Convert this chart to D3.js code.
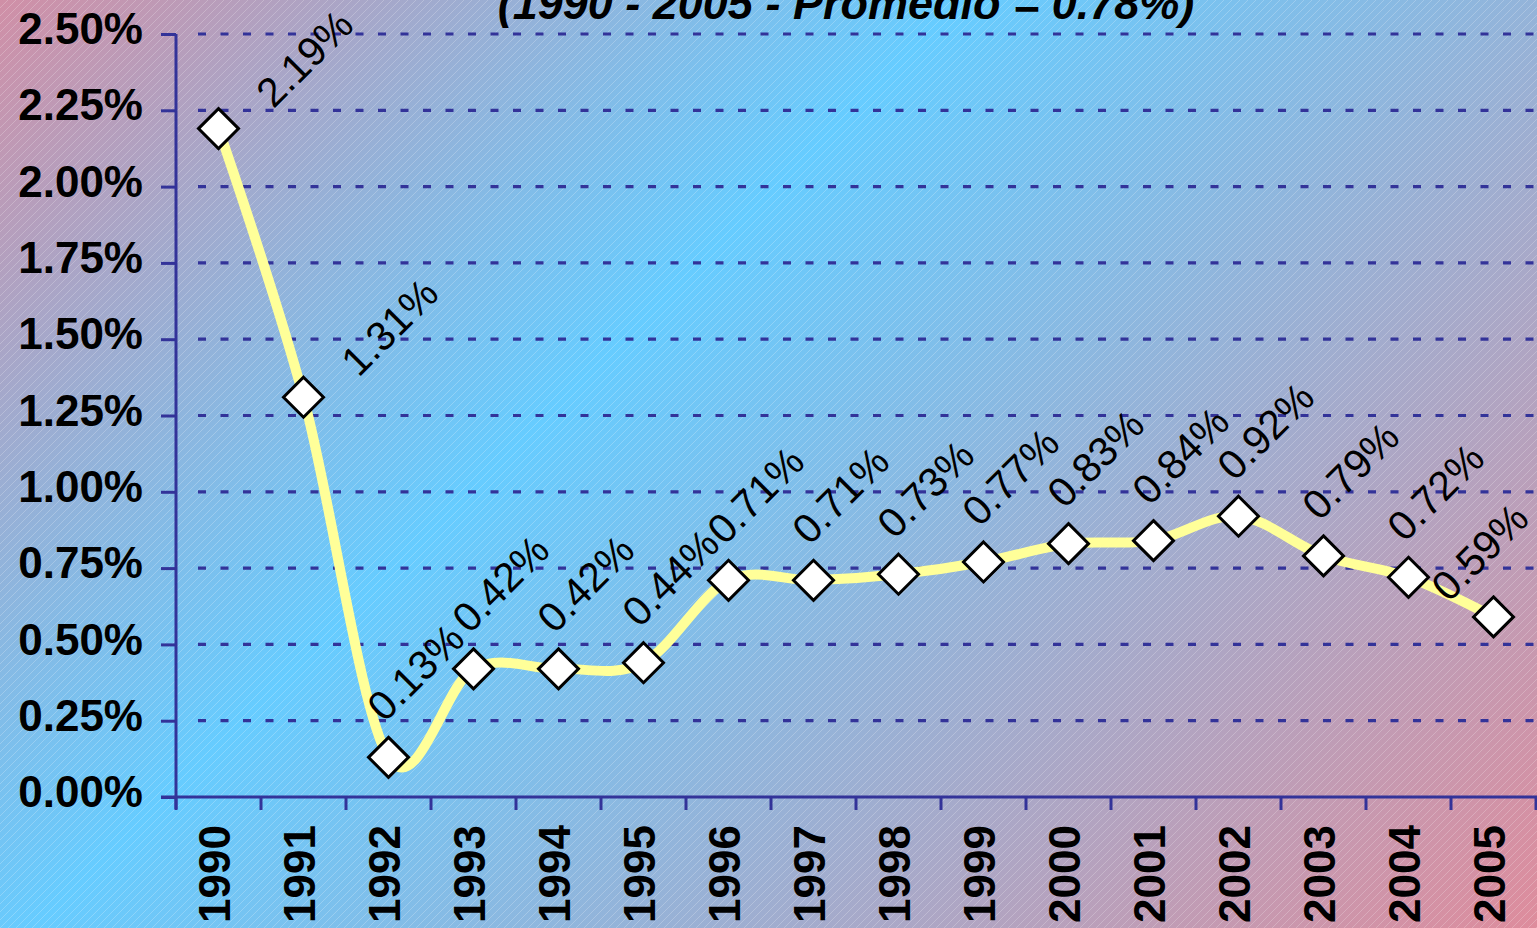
<!DOCTYPE html>
<html>
<head>
<meta charset="utf-8">
<script src="https://cdn.jsdelivr.net/npm/d3@7/dist/d3.min.js"></script>
<style>
	html, body { margin: 0; padding: 0; overflow: hidden; }
	svg { display: block; }
	text { font-family: "Liberation Sans", Arial, sans-serif; }
</style>
</head>
<body>
<svg id="chart" width="1537" height="928"></svg>
<script>
/* Chart data */

var years = ["1990", "1991", "1992", "1993", "1994", "1995", "1996", "1997",
	"1998", "1999", "2000", "2001", "2002", "2003", "2004", "2005"];
var rates = [2.19, 1.31, 0.13, 0.42, 0.42, 0.44, 0.71, 0.71,
	0.73, 0.77, 0.83, 0.84, 0.92, 0.79, 0.72, 0.59];
var yTicks = [0, 0.25, 0.5, 0.75, 1.0, 1.25, 1.5, 1.75, 2.0, 2.25, 2.5];
var titleText = "(1990 - 2005 - Promedio = 0.78%)";

/* Layout */

var width = 1537, height = 928;
var axisColor = "#333399";

var svg = d3.select("#chart");

var x = d3.scaleBand().domain(years).range([176, 1536]);
var y = d3.scaleLinear().domain([0, 2.5]).range([797, 34]);

function pct(v) { return v.toFixed(2) + "%"; }
function cx(i) { return x(years[i]) + x.bandwidth() / 2; }

/* Background: diagonal pink - blue - pink gradient with thin white stripes */

var defs = svg.append("defs");

var grad = defs.append("linearGradient")
	.attr("id", "bgGrad")
	.attr("gradientUnits", "userSpaceOnUse")
	.attr("x1", 0).attr("y1", 0)
	.attr("x2", (width + height) / 2).attr("y2", (width + height) / 2);
grad.append("stop").attr("offset", 0).attr("stop-color", "#d08fa6");
grad.append("stop").attr("offset", 0.39).attr("stop-color", "#66ccff");
grad.append("stop").attr("offset", 1).attr("stop-color", "#de8c9c");

var stripes = defs.append("pattern")
	.attr("id", "stripes")
	.attr("patternUnits", "userSpaceOnUse")
	.attr("width", 8).attr("height", 8);
stripes.append("path")
	.attr("d", "M-2,2 L2,-2 M0,8 L8,0 M6,10 L10,6")
	.attr("stroke", "#ffffff")
	.attr("stroke-opacity", 0.28)
	.attr("stroke-width", 0.8);

svg.append("rect").attr("width", width).attr("height", height)
	.attr("fill", "url(#bgGrad)");
svg.append("rect").attr("width", width).attr("height", height)
	.attr("fill", "url(#stripes)");

/* Title (top half is cut off in the original) */

svg.append("text")
	.attr("x", 846).attr("y", 19)
	.attr("text-anchor", "middle")
	.attr("font-size", 45)
	.attr("font-weight", "bold")
	.attr("font-style", "italic")
	.attr("fill", "#000")
	.text(titleText);

/* Gridlines */

// The dashes start a little right of the axis, like in the original.
svg.append("g").selectAll("line")
	.data(yTicks.filter(function (t) { return t > 0; }))
	.enter().append("line")
	.attr("x1", x.range()[0] + 22)
	.attr("x2", width)
	.attr("y1", function (t) { return y(t); })
	.attr("y2", function (t) { return y(t); })
	.attr("stroke", axisColor)
	.attr("stroke-width", 3.2)
	.attr("stroke-dasharray", "8,14.5");

/* Y axis */

var yAxis = d3.axisLeft(y)
	.tickValues(yTicks)
	.tickSize(15)
	.tickPadding(0)
	.tickFormat(pct);

var yAxisG = svg.append("g")
	.attr("transform", "translate(" + x.range()[0] + ",0)")
	.call(yAxis);
yAxisG.select(".domain").remove();
yAxisG.selectAll(".tick line")
	.attr("stroke", axisColor).attr("stroke-width", 3);
yAxisG.selectAll(".tick text")
	.attr("x", -33)
	.attr("dy", "0.22em")
	.attr("font-size", 44)
	.attr("font-weight", "bold")
	.attr("font-family", "'Liberation Sans', Arial, sans-serif")
	.attr("fill", "#000");

svg.append("line")
	.attr("x1", x.range()[0]).attr("x2", x.range()[0])
	.attr("y1", y(2.5)).attr("y2", y(0) + 12)
	.attr("stroke", axisColor).attr("stroke-width", 3);

/* X axis: ticks at the category boundaries, labels turned up */

svg.append("line")
	.attr("x1", x.range()[0] - 15).attr("x2", width)
	.attr("y1", y(0)).attr("y2", y(0))
	.attr("stroke", axisColor).attr("stroke-width", 3);

svg.append("g").selectAll("line")
	.data(years)
	.enter().append("line")
	.attr("x1", function (d) { return x(d); })
	.attr("x2", function (d) { return x(d); })
	.attr("y1", y(0))
	.attr("y2", y(0) + 13)
	.attr("stroke", axisColor).attr("stroke-width", 3);

svg.append("line")
	.attr("x1", x.range()[1]).attr("x2", x.range()[1])
	.attr("y1", y(0)).attr("y2", y(0) + 13)
	.attr("stroke", axisColor).attr("stroke-width", 3);

svg.append("g").selectAll("text")
	.data(years)
	.enter().append("text")
	.attr("transform", function (d) {
		return "translate(" + (x(d) + x.bandwidth() / 2 + 11) + "," + (y(0) + 28) +
			") rotate(-90)";
	})
	.attr("text-anchor", "end")
	.attr("font-size", 44)
	.attr("font-weight", "bold")
	.attr("fill", "#000")
	.text(function (d) { return d; });

/* Smoothed series line */

var line = d3.line()
	.x(function (d, i) { return cx(i); })
	.y(function (d) { return y(d); })
	.curve(d3.curveCardinal.tension(0));

svg.append("path")
	.datum(rates)
	.attr("d", line)
	.attr("fill", "none")
	.attr("stroke", "#ffff99")
	.attr("stroke-width", 10)
	.attr("stroke-linejoin", "round");

/* Diamond markers */

var half = 20;
svg.append("g").selectAll("path")
	.data(rates)
	.enter().append("path")
	.attr("d", function (d, i) {
		var px = cx(i), py = y(d);
		return "M" + px + "," + (py - half) + "L" + (px + half) + "," + py +
			"L" + px + "," + (py + half) + "L" + (px - half) + "," + py + "Z";
	})
	.attr("fill", "#ffffff")
	.attr("stroke", "#000")
	.attr("stroke-width", 3)
	.attr("stroke-linejoin", "miter");

/* Value labels, turned 45 degrees */

// Labels sit just above the point; where the line drops steeply right after
// the point the label goes to the right instead so it stays off the line.
function labelPos(d, i) {
	var next = rates[i + 1];
	if (next !== undefined && d - next > 0.5) {
		return [cx(i) + 55, y(d) - 19];
	}
	return [cx(i) - 4, y(d) - 34];
}

var labels = svg.append("g").selectAll("text")
	.data(rates)
	.enter().append("text")
	.attr("font-size", 41)
	.attr("fill", "#000")
	.text(pct);

labels.each(function (d, i) {
	var pos = labelPos(d, i);
	// Keep the label inside the right edge of the chart.
	var reach = pos[0] + this.getComputedTextLength() * Math.SQRT1_2;
	var over = reach - (width - 6);
	if (over > 0) {
		pos = [pos[0] - over, pos[1] + over / 2];
	}
	d3.select(this).attr("transform",
		"translate(" + pos[0] + "," + pos[1] + ") rotate(-45)");
});
</script>
</body>
</html>
